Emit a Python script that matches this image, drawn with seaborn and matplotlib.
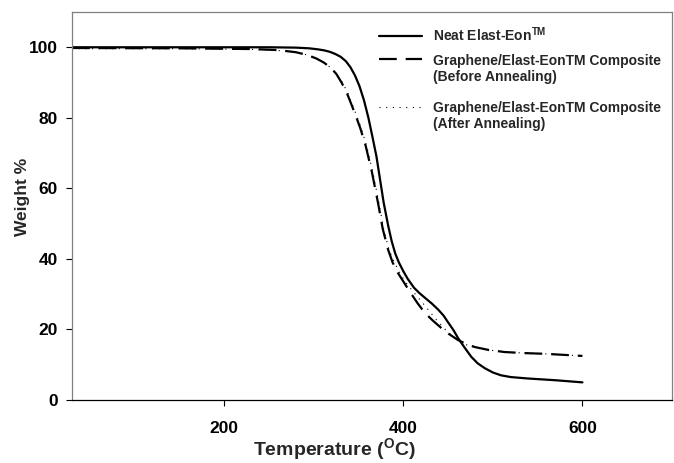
import matplotlib
matplotlib.use("Agg")
import matplotlib.pyplot as plt
import seaborn as sns
import numpy as np

# ---- data ----
neat_T = [30, 150, 250, 280, 295, 305, 312, 318, 324, 330, 336, 341, 346, 351, 356,
          361, 366, 370, 374, 378, 383, 387, 391, 395, 400, 405, 412, 418, 424, 432,
          439, 445, 450, 456, 461, 468, 476, 483, 491, 500, 509, 520, 539, 570, 600]
neat_W = [100, 100, 100, 99.9, 99.7, 99.4, 99.1, 98.7, 98.1, 97.3, 96, 94.3, 92, 89, 85,
          80, 74, 69, 62.5, 56, 49.5, 45, 41.5, 39, 36.5, 34.3, 31.8, 30.3, 29, 27.3,
          25.6, 23.9, 22, 19.8, 17.6, 15, 12.2, 10.4, 9.0, 7.8, 7.0, 6.5, 6.1, 5.6, 5.0]

before_T = [30, 150, 230, 260, 280, 293, 303, 311, 318, 325, 331, 337, 342, 347, 352,
            358, 365, 372, 377, 383, 388, 394, 400, 408, 416, 424, 433, 442, 451, 461,
            470, 480, 495, 513, 535, 558, 600]
before_W = [99.8, 99.7, 99.5, 99.2, 98.6, 97.8, 96.8, 95.7, 94.4, 92.5, 90, 87, 83.8, 80.5, 77,
            72, 64.5, 55.5, 48.5, 42.6, 39, 36, 33.6, 30.4, 27.4, 24.7, 22.5, 20.5, 18.7, 17,
            15.9, 15, 14.2, 13.6, 13.3, 13.1, 12.5]

after_T = [30, 150, 230, 260, 280, 293, 303, 311, 318, 325, 332, 338, 343, 348, 353,
           359, 366, 373, 378, 384, 390, 396, 402, 410, 420, 428, 437, 446, 455, 465,
           474, 483, 495, 513, 535, 558, 600]
after_W = [99.6, 99.6, 99.4, 99.1, 98.6, 97.8, 96.8, 95.7, 94.4, 92.5, 90, 87, 83.8, 80.5, 77,
           72, 64.5, 55.5, 48.5, 42.6, 39, 36, 33.6, 31, 28, 25.5, 22.7, 20.2, 18, 16.2,
           15.3, 14.8, 14.2, 13.6, 13.3, 13.1, 12.5]

labels = [r"Neat Elast-Eon$^{\mathbf{TM}}$",
          "Graphene/Elast-EonTM Composite\n(Before Annealing)",
          "Graphene/Elast-EonTM Composite\n(After Annealing)"]
x_ticks = [200, 400, 600]
y_ticks = [0, 20, 40, 60, 80, 100]

sns.set_theme(style="ticks")
plt.rcParams["font.family"] = ["Liberation Sans", "DejaVu Sans"]
plt.rcParams["font.weight"] = "bold"
plt.rcParams["mathtext.fontset"] = "custom"
plt.rcParams["mathtext.rm"] = "Liberation Sans:bold"
plt.rcParams["mathtext.bf"] = "Liberation Sans:bold"
plt.rcParams["mathtext.it"] = "Liberation Sans:bold"

fig = plt.figure(figsize=(6.74, 4.63), dpi=100)
ax = fig.add_axes([72 / 674, 1 - 400 / 463, 600 / 674, 388 / 463])

sns.lineplot(x=neat_T, y=neat_W, ax=ax, color="black", lw=1.6, label=labels[0])
sns.lineplot(x=before_T, y=before_W, ax=ax, color="black", lw=1.6,
             linestyle=(0, (8, 4)), label=labels[1])
sns.lineplot(x=after_T, y=after_W, ax=ax, color="black", lw=0.8,
             linestyle=(0, (1, 5)), label=labels[2])

ax.set_xlim(30, 700)
ax.set_ylim(0, 110)
ax.set_xticks(x_ticks)
ax.set_yticks(y_ticks)
ax.tick_params(axis="x", direction="out", length=4, width=0.8, pad=11,
               labelsize=12.5, colors="black")
ax.tick_params(axis="y", direction="out", length=4.3, width=0.8, pad=6,
               labelsize=12.5, colors="black")
for lab in ax.get_xticklabels() + ax.get_yticklabels():
    lab.set_fontweight("bold")

for s in ["top", "right", "left"]:
    ax.spines[s].set_color("#808080")
    ax.spines[s].set_linewidth(0.9)
ax.spines["bottom"].set_color("black")
ax.spines["bottom"].set_linewidth(0.9)

ax.set_xlabel(r"Temperature ($^{\mathbf{O}}$C)", fontsize=14, fontweight="bold")
ax.xaxis.set_label_coords(0.437, -0.092)
ax.set_ylabel("Weight %", fontsize=12.5, fontweight="bold")
ax.yaxis.set_label_coords(-0.07, 0.523)

# one legend per entry so that the vertical spacing matches the reference
fs = 10
lsp = 1.2
handles = ax.get_lines()[:3]
if ax.get_legend() is not None:
    ax.get_legend().remove()
anchors_y = [0.965, 0.893, 0.770]
legs = []
for h, lab, ay in zip(handles, labels, anchors_y):
    lg = ax.legend([h], [lab], loc="upper left", bbox_to_anchor=(0.512, ay),
                   frameon=False, fontsize=fs, handlelength=3.1, handletextpad=0.8,
                   borderpad=0, borderaxespad=0)
    for t in lg.get_texts():
        t.set_fontweight("bold")
        t.set_linespacing(lsp)
    legs.append(lg)
for lg in legs[:-1]:
    ax.add_artist(lg)
fig.canvas.draw()
# raise the handles of the two-line entries to their first line
for lg in legs[1:]:
    for h in lg.legend_handles:
        h.set_ydata(np.asarray(h.get_ydata()) + fs * lsp - 4.5)

fig.savefig("out.png", dpi=100)
